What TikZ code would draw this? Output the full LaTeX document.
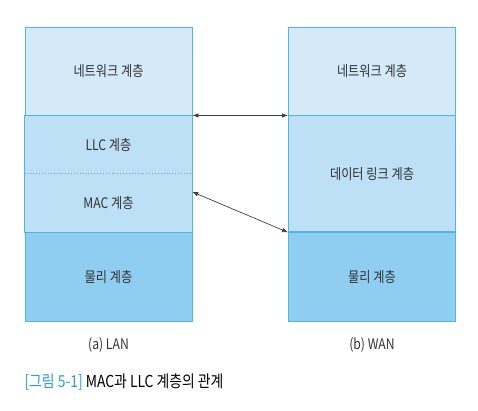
\documentclass[tikz,border=0pt]{standalone}
\usepackage{fontspec}
\setmainfont[FakeStretch=0.84]{Noto Sans CJK KR}
\usetikzlibrary{positioning,arrows.meta}
\definecolor{edgeblue}{HTML}{55B4DB}
\definecolor{netfill}{HTML}{D4EAF8}
\definecolor{linkfill}{HTML}{BDE0F6}
\definecolor{phyfill}{HTML}{8FCDF1}
\definecolor{capblue}{HTML}{2A9FD6}
\definecolor{txtgray}{HTML}{333333}
\tikzset{
  layer/.style={rectangle, inner sep=0pt, minimum width=167bp, text=txtgray,
    font=\fontsize{14.5bp}{17bp}\selectfont},
  netbox/.style={layer, fill=netfill, draw=edgeblue, line width=0.9bp, minimum height=88bp},
  halfbox/.style={layer, fill=linkfill, minimum height=58bp},
  linkbox/.style={layer, fill=linkfill, draw=edgeblue, line width=0.9bp, minimum height=116bp},
  phybox/.style={layer, fill=phyfill, draw=edgeblue, line width=0.9bp, minimum height=89bp},
  tag/.style={text=txtgray, font=\fontsize{14.5bp}{17bp}\selectfont},
  link/.style={draw=black!75, line width=0.7bp, >={Latex[length=6bp,width=4.5bp]}}
}
\begin{document}
\begin{tikzpicture}[x=1bp, y=-1bp]
			\useasboundingbox (0,0) rectangle (478,410);
			
			% LAN stack
			\node[netbox] (lnet) at (108.5, 71) {네트워크 계층};
			\node[halfbox, below=0pt of lnet] (llc) {LLC 계층};
			\node[halfbox, below=0pt of llc] (lmac) {MAC 계층};
			\node[phybox, below=0pt of lmac] (lphy) {물리 계층};
			\draw[edgeblue, line width=0.9bp] (llc.north west) rectangle (lmac.south east);
			\draw[edgeblue, line width=0.9bp, dotted] (llc.south west) -- (llc.south east);
			
			% WAN stack
			\node[netbox] (rnet) at (372, 71) {네트워크 계층};
			\node[linkbox, below=0pt of rnet] (rdl) {데이터 링크 계층};
			\node[phybox, below=0pt of rdl] (rphy) {물리 계층};
			
			% arrows
			\draw[link, <->] (lnet.south east) -- (rnet.south west);
			\draw[link, <->] ([yshift=-18bp]lmac.north east) -- (rphy.north west);
			
			% labels
			\node[tag] (lan) at (108.5, 345) {(a) LAN};
			\node[tag] (wan) at (372, 345) {(b) WAN};
			\node[tag, anchor=west, font=\fontsize{16.5bp}{19bp}\selectfont] (cap) at (21, 382) {\textcolor{capblue}{[그림 5-1]} \textcolor{black}{MAC과 LLC 계층의 관계}};
		\end{tikzpicture}
\end{document}
